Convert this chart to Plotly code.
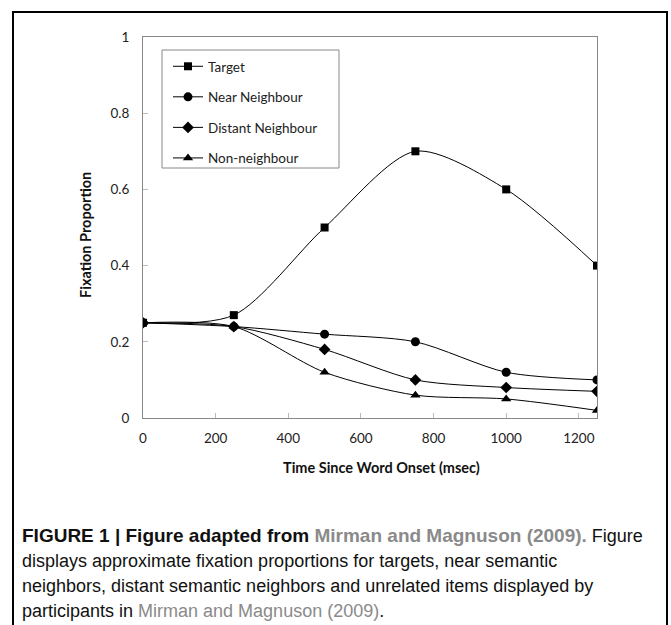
import plotly.graph_objects as go

time_ms = [0, 250, 500, 750, 1000, 1250]
target = [0.25, 0.27, 0.50, 0.70, 0.60, 0.40]
near_neighbour = [0.25, 0.24, 0.22, 0.20, 0.12, 0.10]
distant_neighbour = [0.25, 0.24, 0.18, 0.10, 0.08, 0.07]
non_neighbour = [0.25, 0.24, 0.12, 0.06, 0.05, 0.02]

series = [
    ("Target", target, "square", 8),
    ("Near Neighbour", near_neighbour, "circle", 9),
    ("Distant Neighbour", distant_neighbour, "diamond", 9),
    ("Non-neighbour", non_neighbour, "triangle-up", 9),
]

W, H = 671, 625
L, R, T, B = 143, 74, 37, 207
pw, ph = W - L - R, H - T - B

def px(x):
    return (x - L) / pw

def py(y):
    return (H - B - y) / ph

fig = go.Figure()
for i, (name, vals, sym, sz) in enumerate(series):
    fig.add_trace(go.Scatter(
        x=time_ms, y=vals, name=name, mode="lines+markers",
        line=dict(color="black", width=1, shape="spline", smoothing=0.8),
        marker=dict(symbol=sym, size=sz, color="black"),
        legendgroup=f"g{i}",
    ))

font_main = "Lato, Open Sans, sans-serif"
fig.update_layout(
    width=W, height=H,
    margin=dict(l=L, r=R, t=T, b=B),
    paper_bgcolor="white", plot_bgcolor="white",
    showlegend=True,
    legend=dict(
        x=px(168), y=py(51), xanchor="left", yanchor="top",
        borderwidth=0, bgcolor="rgba(0,0,0,0)",
        font=dict(family=font_main, size=13.5, color="#222"),
        tracegroupgap=10, itemwidth=30,
    ),
    xaxis=dict(
        range=[0, 1250], tickvals=[0, 200, 400, 600, 800, 1000, 1200],
        ticks="inside", ticklen=5, tickcolor="#bbb",
        showline=True, linecolor="#888", linewidth=1, mirror=True,
        showgrid=False, zeroline=False, ticklabelstandoff=8,
        tickfont=dict(family=font_main, size=13.5, color="#222"),
    ),
    yaxis=dict(
        range=[0, 1], tickvals=[0, 0.2, 0.4, 0.6, 0.8, 1],
        ticktext=["0", "0.2", "0.4", "0.6", "0.8", "1"],
        ticks="inside", ticklen=5, tickcolor="#bbb",
        showline=True, linecolor="#888", linewidth=1, mirror=True,
        showgrid=False, zeroline=False, ticklabelstandoff=10,
        tickfont=dict(family=font_main, size=13.5, color="#222"),
    ),
)

# legend box
fig.add_shape(type="rect", xref="paper", yref="paper",
              x0=px(162), x1=px(339), y0=py(168), y1=py(50),
              line=dict(color="#888", width=1))

# axis titles
fig.add_annotation(text="<b>Time Since Word Onset (msec)</b>", xref="paper", yref="paper",
                   x=px(381), y=py(467), xanchor="center", yanchor="middle", showarrow=False,
                   font=dict(family=font_main, size=14.5, color="#111"))
fig.add_annotation(text="<b>Fixation Proportion</b>", xref="paper", yref="paper",
                   x=px(85), y=py(235), xanchor="center", yanchor="middle", showarrow=False,
                   textangle=-90, font=dict(family=font_main, size=14.5, color="#111"))

# outer frame (left, top, right)
fig.add_shape(type="path", xref="paper", yref="paper",
              path=f"M {px(13)} {py(640)} L {px(13)} {py(12)} L {px(667)} {py(12)} L {px(667)} {py(640)}",
              line=dict(color="black", width=2))

cap_font = "Liberation Sans, Arial, sans-serif"
grey = "#8a8a8a"
caption = [
    ("<span style='font-size:19px'><b>FIGURE 1 | Figure adapted from <span style='color:%s'>Mirman and Magnuson (2009).</span></b></span> Figure" % grey, 535),
    ("displays approximate fixation proportions for targets, near semantic", 561),
    ("neighbors, distant semantic neighbors and unrelated items displayed by", 586),
    ("participants in <span style='color:%s'>Mirman and Magnuson (2009)</span>." % grey, 611),
]
for txt, yy in caption:
    fig.add_annotation(text=txt, xref="paper", yref="paper", x=px(20), y=py(yy),
                       xanchor="left", yanchor="middle", showarrow=False,
                       font=dict(family=cap_font, size=18, color="#111"))

fig.write_html("out.html")
